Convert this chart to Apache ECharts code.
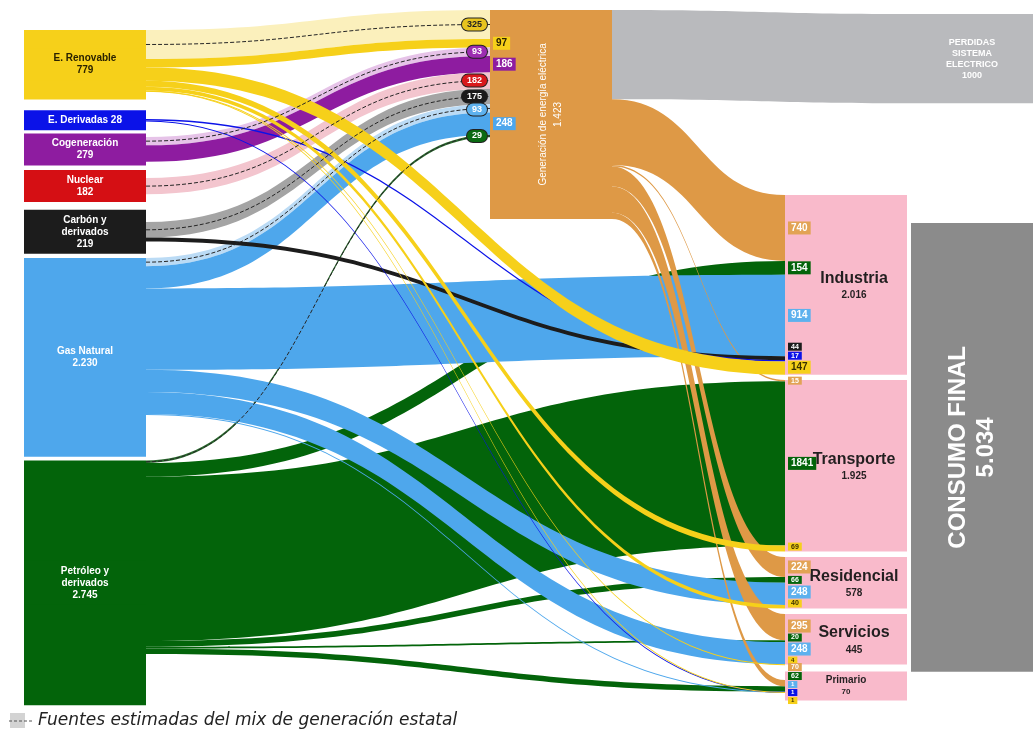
<!DOCTYPE html>
<html><head><meta charset="utf-8">
<script src="https://cdn.jsdelivr.net/npm/echarts@6/dist/echarts.min.js"></script>
<style>html,body{margin:0;padding:0;background:#fff}#c{width:1033px;height:732px}</style>
</head><body><div id="c"></div>
<script>
// ---------------- DATA ----------------
const sourceNames = ['E. Renovable', 'E. Derivadas', 'Cogeneración', 'Nuclear', 'Carbón y derivados', 'Gas Natural', 'Petróleo y derivados'];
const sourceValues = [779, 28, 279, 182, 219, 2230, 2745];
const generationName = 'Generación de energía eléctrica';
const generationValue = 1423;
const lossesName = 'Perdidas sistema eléctrico';
const lossesValue = 1000;
const sectorNames = ['Industria', 'Transporte', 'Residencial', 'Servicios', 'Primario'];
const sectorValues = [2016, 1925, 578, 445, 70];
const finalName = 'Consumo final';
const finalValue = 5034;
// flows into generation, per source (estimated state mix = dashed, direct = solid)
const estimatedToGeneration = [325, 0, 93, 182, 175, 93, 29];
const directToGeneration = [97, 0, 186, 0, 0, 248, 0];
// flows into sectors (order of sectorNames)
const generationToSectors = [740, 15, 224, 295, 70];
const renovableToSectors = [147, 69, 40, 4, 1];
const derivadasToSectors = [17, 0, 0, 0, 1];
const carbonToSectors = [44, 0, 0, 0, 0];
const gasToSectors = [914, 0, 248, 248, 1];
const petroleoToSectors = [154, 1841, 66, 20, 62];
const legendText = 'Fuentes estimadas del mix de generación estatal';

// ---------------- STYLE / LAYOUT ----------------
const W = 1033, H = 732, NODE_W = 122;
const FONT = 'Liberation Sans, Arial, sans-serif';
const srcColor = ['#F6D01A', '#0B12E8', '#8E1CA0', '#D50F14', '#1C1C1C', '#4EA7EC', '#03640A'];
const estColor = ['#FBF0BC', null, '#E6C3E8', '#F3C5CE', '#A4A4A4', '#BBDBF5', '#2A6A2E'];
const ovalColor = ['#E8C41E', null, '#9C2DB0', '#D8181C', '#1A1A1A', '#5DB1EE', '#0B6A12'];
const srcLabelFg = ['#2a2200', '#fff', '#fff', '#fff', '#fff', '#fff', '#fff'];
const GEN = '#DE9946', LOSS = '#B9BABD', SECTOR = '#F9BACB', FINAL = '#8B8B8B';
const place = {
  'E. Renovable': [24, 30], 'E. Derivadas': [24, 119], 'Cogeneración': [24, 137],
  'Nuclear': [24, 178], 'Carbón y derivados': [24, 222], 'Gas Natural': [24, 258],
  'Petróleo y derivados': [24, 460.5],
  [generationName]: [490, 10],
  'Industria': [785, 195], 'Transporte': [785, 380], 'Residencial': [785, 557],
  'Servicios': [785, 614], 'Primario': [785, 680],
  [lossesName]: [911, 14], [finalName]: [911, 223]
};
// stacking order of incoming bands on each consumption sector (top to bottom)
const sectorInOrder = [generationName, 'Petróleo y derivados', 'Gas Natural', 'Carbón y derivados', 'Nuclear', 'Cogeneración', 'E. Derivadas', 'E. Renovable'];
const lines = {
  'Carbón y derivados': ['Carbón y', 'derivados'],
  'Petróleo y derivados': ['Petróleo y', 'derivados']
};
const fmt = v => String(v).replace(/\B(?=(\d{3})+(?!\d))/g, '.');

// re-stack the incoming bands of the sector nodes after the sankey layout
echarts.registerLayout(1050, function (ecModel) {
  ecModel.eachSeriesByType('sankey', function (sm) {
    const graph = sm.getGraph();
    if (!graph) return;
    graph.eachNode(function (node) {
      if (sectorNames.indexOf(node.id) < 0) return;
      const ins = node.inEdges.slice().sort(function (a, b) {
        return sectorInOrder.indexOf(a.node1.id) - sectorInOrder.indexOf(b.node1.id);
      });
      let ty = 0;
      ins.forEach(function (e) { e.setLayout({ ty: ty }, true); ty += e.getLayout().dy; });
    });
  });
});

// ---------------- BUILD ----------------
const nodes = [];
const pos = n => ({ localX: place[n][0] / W, localY: place[n][1] / H });
sourceNames.forEach((n, i) => {
  const t = n === 'E. Derivadas' ? n + ' ' + sourceValues[i] : (lines[n] || [n]).join('\n') + '\n' + fmt(sourceValues[i]);
  nodes.push(Object.assign({
    name: n, value: sourceValues[i], depth: 0,
    itemStyle: { color: srcColor[i] },
    label: { formatter: t, color: srcLabelFg[i], fontSize: 10, fontWeight: 'bold', lineHeight: 12,
      backgroundColor: srcColor[i], width: NODE_W - 16, padding: [4, 8], align: 'center' }
  }, pos(n)));
});
nodes.push(Object.assign({
  name: generationName, value: generationValue, depth: 1, itemStyle: { color: GEN },
  label: { formatter: 'Generación de energía eléctrica\n' + fmt(generationValue), rotate: 90,
    color: '#fff', fontSize: 10, lineHeight: 15 }
}, pos(generationName)));
sectorNames.forEach((n, i) => {
  const small = n === 'Primario';
  nodes.push(Object.assign({
    name: n, value: sectorValues[i], depth: 2, itemStyle: { color: SECTOR },
    label: small ? {
      formatter: '{n|' + n + '}\n{v|' + fmt(sectorValues[i]) + '}', backgroundColor: SECTOR,
      width: NODE_W - 16, padding: [3, 8], align: 'center',
      rich: { n: { fontSize: 10, fontWeight: 'bold', color: '#231F20', lineHeight: 12, align: 'center' },
              v: { fontSize: 8, fontWeight: 'bold', color: '#231F20', lineHeight: 11, align: 'center' } }
    } : {
      formatter: '{n|' + n + '}\n{v|' + fmt(sectorValues[i]) + '}', offset: [8, 0],
      rich: { n: { fontSize: 16, fontWeight: 'bold', color: '#231F20', lineHeight: 21, align: 'center' },
              v: { fontSize: 10, fontWeight: 'bold', color: '#231F20', lineHeight: 13, align: 'center' } }
    }
  }, pos(n)));
});
nodes.push(Object.assign({
  name: lossesName, value: lossesValue, depth: 3, itemStyle: { color: LOSS },
  label: { formatter: 'PERDIDAS\nSISTEMA\nELECTRICO\n' + lossesValue, color: '#fff', fontSize: 9, fontWeight: 'bold', lineHeight: 11 }
}, pos(lossesName)));
nodes.push(Object.assign({
  name: finalName, value: finalValue, depth: 3, itemStyle: { color: FINAL },
  label: { formatter: 'CONSUMO FINAL\n' + fmt(finalValue), rotate: 90, color: '#fff', fontSize: 24, fontWeight: 'bold', lineHeight: 28 }
}, pos(finalName)));

const links = [], linkMeta = [];
function addLink(s, t, v, color, meta) {
  if (!v) return;
  links.push({ source: s, target: t, value: v, lineStyle: { color: color } });
  linkMeta.push(meta);
}
sourceNames.forEach((s, i) => {
  addLink(s, generationName, estimatedToGeneration[i], estColor[i], { kind: 'est', src: i });
  addLink(s, generationName, directToGeneration[i], srcColor[i], { kind: 'direct', src: i });
});
addLink(generationName, lossesName, lossesValue, LOSS, { kind: 'loss' });
const toSectors = [
  [6, petroleoToSectors], [5, gasToSectors], ['gen', generationToSectors],
  [4, carbonToSectors], [1, derivadasToSectors], [0, renovableToSectors]
];
toSectors.forEach(([src, arr]) => {
  arr.forEach((v, k) => {
    if (src === 'gen') addLink(generationName, sectorNames[k], v, GEN, { kind: 'sector', src: 'gen' });
    else addLink(sourceNames[src], sectorNames[k], v, srcColor[src], { kind: 'sector', src: src });
  });
});

const chart = echarts.init(document.getElementById('c'), null, { renderer: 'canvas' });
chart.setOption({
  animation: false,
  backgroundColor: '#fff',
  textStyle: { fontFamily: FONT },
  series: [{
    type: 'sankey', left: 0, top: 0, width: W, height: H,
    nodeWidth: NODE_W, nodeGap: 26, layoutIterations: 0, nodeAlign: 'left', draggable: false,
    emphasis: { disabled: true },
    label: { show: true, position: 'inside', fontFamily: FONT },
    lineStyle: { opacity: 1, curveness: 0.5 },
    itemStyle: { borderWidth: 0 },
    data: nodes, links: links
  }]
});

// ---------------- VALUE TAGS FROM THE SANKEY LAYOUT ----------------
(function () {
  let sm, graph;
  try { sm = chart.getModel().getSeriesByIndex(0); graph = sm.getGraph(); } catch (e) { console.error(e); return; }
  const box = sm.layoutInfo || { x: 0, y: 0, width: W, height: H };
  const P = node => {
    const m = node.getModel(), L = node.getLayout();
    const lx = m.get('localX'), ly = m.get('localY');
    return { x: box.x + (lx != null ? lx * box.width : L.x), y: box.y + (ly != null ? ly * box.height : L.y), w: L.dx, h: L.dy };
  };
  const groups = {};
  const els = [];
  graph.eachEdge(edge => {
    const meta = linkMeta[edge.dataIndex];
    if (!meta || meta.kind === 'loss') return;
    const L = edge.getLayout();
    const p1 = P(edge.node1), p2 = P(edge.node2);
    const yc = p2.y + L.ty + L.dy / 2;
    const v = edge.getValue();
    let key, st;
    if (meta.kind === 'est') {
      const x1 = p1.x + p1.w, y1 = p1.y + L.sy + L.dy / 2, x2 = p2.x, y2 = yc;
      els.push({ type: 'bezierCurve', silent: true, z: 50,
        shape: { x1: x1, y1: y1, x2: x2, y2: y2, cpx1: (x1 + x2) / 2, cpy1: y1, cpx2: (x1 + x2) / 2, cpy2: y2 },
        style: { stroke: '#262626', lineWidth: 1, lineDash: [4, 2], fill: null } });
      key = 'oval';
      st = { x: p2.x - 3, align: 'right', bg: ovalColor[meta.src], fg: meta.src === 0 ? '#222' : '#fff', fs: 9, oval: true, pv: 1 };
    } else if (meta.kind === 'direct') {
      key = 'gbox';
      st = { x: p2.x + 3, align: 'left', bg: srcColor[meta.src], fg: srcLabelFg[meta.src], fs: 10, pv: 1 };
    } else {
      key = edge.node2.id;
      const bg = meta.src === 'gen' ? '#E2A354' : (meta.src === 5 ? '#5DB1EE' : srcColor[meta.src]);
      const fg = meta.src === 0 ? '#3a3000' : '#fff';
      const fs = L.dy >= 12 ? 10 : (L.dy >= 3 || v >= 10 ? 7 : 6);
      st = { x: p2.x + 3, align: 'left', bg: bg, fg: fg, fs: fs, pv: fs >= 10 ? 1 : 0 };
    }
    const h = st.fs + 1 + 2 * st.pv;
    const extra = p2.h < 20 ? 12 : -1;
    (groups[key] = groups[key] || []).push({ y: yc, h: h, v: v, st: st, limit: p2.y + p2.h + extra });
  });
  Object.keys(groups).forEach(k => {
    const g = groups[k].sort((a, b) => a.y - b.y);
    let prevBottom = -1e9;
    g.forEach(it => {
      if (it.y - it.h / 2 < prevBottom + 1) it.y = prevBottom + 1 + it.h / 2;
      prevBottom = it.y + it.h / 2;
    });
    let lim = g[0].limit;
    for (let i = g.length - 1; i >= 0; i--) {
      const it = g[i];
      if (it.y + it.h / 2 > lim) it.y = lim - it.h / 2;
      lim = it.y - it.h / 2 - 1;
    }
    g.forEach(it => {
      const s = it.st;
      els.push({ type: 'text', z: 60, silent: true, x: s.x, y: it.y,
        style: { text: String(it.v), fill: s.fg, fontSize: s.fs, fontWeight: 'bold', fontFamily: FONT,
          align: s.align, verticalAlign: 'middle', backgroundColor: s.bg, lineHeight: s.fs + 1,
          padding: s.oval ? [1, 5] : [s.pv, 3], borderRadius: s.oval ? 8 : 0,
          borderColor: s.oval ? '#222' : null, borderWidth: s.oval ? 1 : 0 } });
    });
  });
  // legend note
  els.push({ type: 'rect', silent: true, z: 60, shape: { x: 10, y: 713, width: 15, height: 15 }, style: { fill: '#D3D3D3' } });
  els.push({ type: 'line', silent: true, z: 61, shape: { x1: 9, y1: 721, x2: 33, y2: 721 }, style: { stroke: '#555', lineWidth: 1.2, lineDash: [3, 2] } });
  els.push({ type: 'text', silent: true, z: 61, x: 38, y: 721,
    style: { text: legendText, fill: '#222', fontSize: 17, fontStyle: 'italic', fontFamily: 'DejaVu Sans, sans-serif', verticalAlign: 'middle' } });
  chart.setOption({ graphic: { elements: els } });
})();
</script>
</body></html>
